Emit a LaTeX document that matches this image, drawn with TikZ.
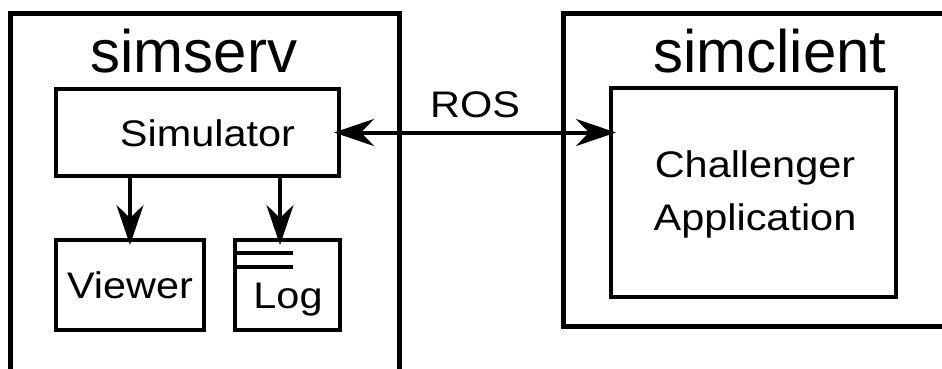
\documentclass[tikz,border=0pt]{standalone}
\usepackage{fontspec}
\setmainfont{Liberation Sans}
\newfontfamily\boxfont[FakeStretch=1.12]{Liberation Sans}
\usetikzlibrary{arrows.meta,positioning}

\begin{document}
\begin{tikzpicture}[x=1pt,y=-1pt,
  >={Stealth[length=40pt,width=27pt,inset=13pt]},
  outer/.style={line width=5pt},
  block/.style={draw,line width=4pt,inner sep=0pt},
  title/.style={anchor=base,inner sep=0pt,font=\fontsize{60}{72}\selectfont},
  lbl/.style={anchor=base,inner sep=0pt,align=center,font=\boxfont\fontsize{37}{53}\selectfont},
  flow/.style={line width=4pt,shorten >=-7pt}]
\useasboundingbox (0,0) rectangle (942,369);
\clip (0,0) rectangle (942,369);
\draw[outer] (10,14) rectangle (399,390);
\draw[outer] (563,14) rectangle (960,326);
\node[title] (serv) at (194,72) {simserv};
\node[title] (client) at (770,72) {simclient};
\node[block,minimum width=283pt,minimum height=87pt] (sim) at (197.5,132.5) {};
\node[block,minimum width=148pt,minimum height=90pt] (view) at (130,285) {};
\node[block,minimum width=105pt,minimum height=90pt] (log) at (287.5,285) {};
\node[block,minimum width=285pt,minimum height=209pt] (app) at (753.5,192.5) {};
\node[lbl] (simtext) at ([xshift=10pt,yshift=-13.5pt]sim.center) {Simulator};
\node[lbl] (viewtext) at ([yshift=-13pt]view.center) {Viewer};
\node[lbl] (logtext) at ([xshift=0.5pt,yshift=-23pt]log.center) {Log};
\node[lbl] (apptext) at ([xshift=1.5pt,yshift=-37.5pt]app.center) {Challenger\\Application};
\draw[line width=4pt] ([yshift=-15pt]log.north west) -- ++(60,0);
\draw[line width=4pt] ([yshift=-29pt]log.north west) -- ++(60,0);
\coordinate (login) at ([xshift=-7.5pt]log.north);
\draw[flow,->] (sim.south -| view.north) -- (view.north);
\draw[flow,->] (sim.south -| login) -- (login);
\draw[flow,<->,shorten <=-7pt] (sim.east) -- (sim.east -| app.west)
  node[lbl,midway,yshift=15pt] (ros) {ROS};
\end{tikzpicture}
\end{document}
